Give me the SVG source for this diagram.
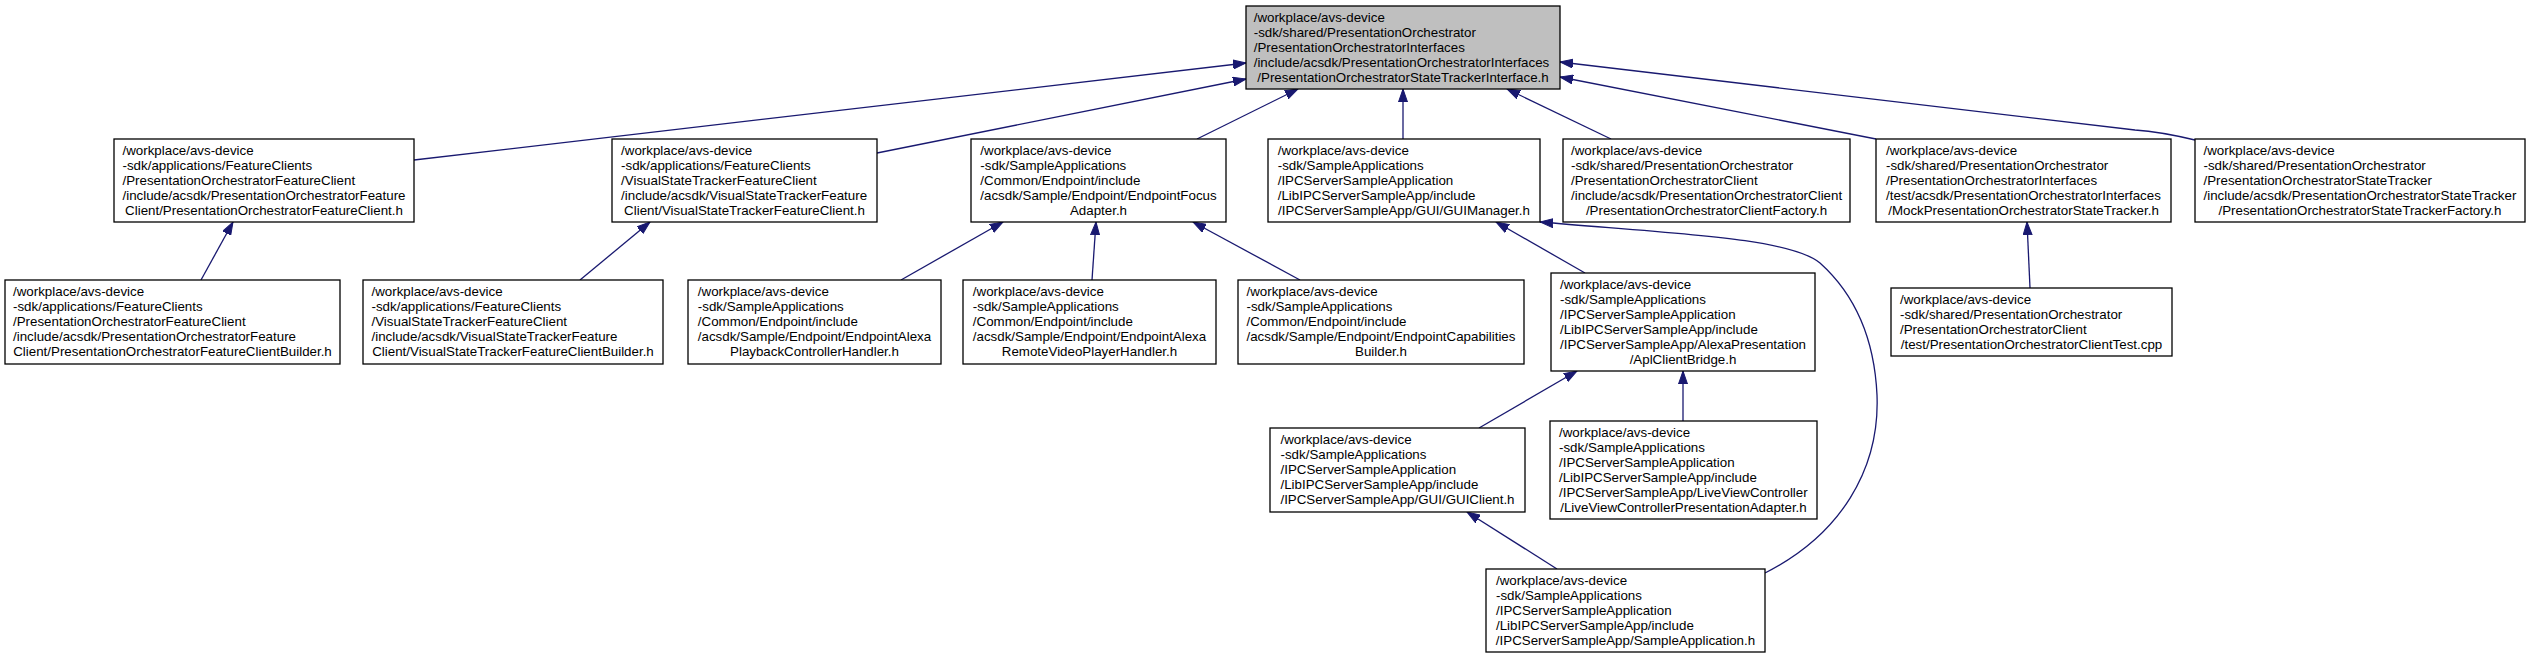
<svg xmlns="http://www.w3.org/2000/svg" width="2531" height="659" viewBox="0 0 2531 659">
<style>
.n rect{fill:#ffffff;stroke:#000000;stroke-width:1.3}
.r rect{fill:#bfbfbf;stroke:#000000;stroke-width:1.3}
text{font-family:"Liberation Sans",Arial,sans-serif;font-size:13.33px;fill:#000000}
.c{text-anchor:middle}
.e path{fill:none;stroke:#191970;stroke-width:1.3}
</style>
<defs>
<marker id="ah" markerUnits="userSpaceOnUse" markerWidth="14" markerHeight="10" refX="13" refY="5" orient="auto">
<path d="M0,0.5 L13,5 L0,9.5 z" fill="#191970" stroke="#191970" stroke-width="1"/>
</marker>
</defs>
<rect width="2531" height="659" fill="#ffffff"/>
<g id="connectors" class="e">
<path marker-end="url(#ah)" d="M414,160 L1246,63"/>
<path marker-end="url(#ah)" d="M877,153 L1246,79"/>
<path marker-end="url(#ah)" d="M1197,139 L1298,89"/>
<path marker-end="url(#ah)" d="M1403,139 L1403,89"/>
<path marker-end="url(#ah)" d="M1611,139 L1507,89"/>
<path marker-end="url(#ah)" d="M1876,139 L1560,77"/>
<path marker-end="url(#ah)" d="M2195,140 C2170,134 2150,131 2135,130 L1560,62"/>
<path marker-end="url(#ah)" d="M201,280 L233,222"/>
<path marker-end="url(#ah)" d="M580,280 L650,222"/>
<path marker-end="url(#ah)" d="M901,280 L1003,222"/>
<path marker-end="url(#ah)" d="M1092,280 L1096,222"/>
<path marker-end="url(#ah)" d="M1300,280 L1193,222"/>
<path marker-end="url(#ah)" d="M1585,273 L1496,222"/>
<path marker-end="url(#ah)" d="M1765,573 C1840,535 1880,470 1877,395 C1874,330 1850,290 1820,263 C1790,238 1680,234 1540,222"/>
<path marker-end="url(#ah)" d="M2030,288 L2027,222"/>
<path marker-end="url(#ah)" d="M1479,428 L1577,371"/>
<path marker-end="url(#ah)" d="M1683,421 L1683,371"/>
<path marker-end="url(#ah)" d="M1557,569 L1467,512"/>
</g>
<g id="root" class="r">
<rect x="1246" y="6" width="314" height="83"/>
<text x="1253.7" y="22">/workplace/avs-device</text>
<text x="1253.7" y="37">-sdk/shared/PresentationOrchestrator</text>
<text x="1253.7" y="52">/PresentationOrchestratorInterfaces</text>
<text x="1253.7" y="67">/include/acsdk/PresentationOrchestratorInterfaces</text>
<text class="c" x="1403" y="82">/PresentationOrchestratorStateTrackerInterface.h</text>
</g>
<g id="poFeatureClient" class="n">
<rect x="114" y="139" width="300" height="83"/>
<text x="122.5" y="155">/workplace/avs-device</text>
<text x="122.5" y="170">-sdk/applications/FeatureClients</text>
<text x="122.5" y="185">/PresentationOrchestratorFeatureClient</text>
<text x="122.5" y="200">/include/acsdk/PresentationOrchestratorFeature</text>
<text class="c" x="264" y="215">Client/PresentationOrchestratorFeatureClient.h</text>
</g>
<g id="vstFeatureClient" class="n">
<rect x="612" y="139" width="265" height="83"/>
<text x="621.1" y="155">/workplace/avs-device</text>
<text x="621.1" y="170">-sdk/applications/FeatureClients</text>
<text x="621.1" y="185">/VisualStateTrackerFeatureClient</text>
<text x="621.1" y="200">/include/acsdk/VisualStateTrackerFeature</text>
<text class="c" x="744.5" y="215">Client/VisualStateTrackerFeatureClient.h</text>
</g>
<g id="endpointFocusAdapter" class="n">
<rect x="971" y="139" width="255" height="83"/>
<text x="980.3" y="155">/workplace/avs-device</text>
<text x="980.3" y="170">-sdk/SampleApplications</text>
<text x="980.3" y="185">/Common/Endpoint/include</text>
<text x="980.3" y="200">/acsdk/Sample/Endpoint/EndpointFocus</text>
<text class="c" x="1098.5" y="215">Adapter.h</text>
</g>
<g id="guiManager" class="n">
<rect x="1268" y="139" width="272" height="83"/>
<text x="1277.7" y="155">/workplace/avs-device</text>
<text x="1277.7" y="170">-sdk/SampleApplications</text>
<text x="1277.7" y="185">/IPCServerSampleApplication</text>
<text x="1277.7" y="200">/LibIPCServerSampleApp/include</text>
<text class="c" x="1404" y="215">/IPCServerSampleApp/GUI/GUIManager.h</text>
</g>
<g id="poClientFactory" class="n">
<rect x="1563" y="139" width="287" height="83"/>
<text x="1571" y="155">/workplace/avs-device</text>
<text x="1571" y="170">-sdk/shared/PresentationOrchestrator</text>
<text x="1571" y="185">/PresentationOrchestratorClient</text>
<text x="1571" y="200">/include/acsdk/PresentationOrchestratorClient</text>
<text class="c" x="1706.5" y="215">/PresentationOrchestratorClientFactory.h</text>
</g>
<g id="mockStateTracker" class="n">
<rect x="1876" y="139" width="295" height="83"/>
<text x="1886" y="155">/workplace/avs-device</text>
<text x="1886" y="170">-sdk/shared/PresentationOrchestrator</text>
<text x="1886" y="185">/PresentationOrchestratorInterfaces</text>
<text x="1886" y="200">/test/acsdk/PresentationOrchestratorInterfaces</text>
<text class="c" x="2023.5" y="215">/MockPresentationOrchestratorStateTracker.h</text>
</g>
<g id="stateTrackerFactory" class="n">
<rect x="2195" y="139" width="330" height="83"/>
<text x="2203.5" y="155">/workplace/avs-device</text>
<text x="2203.5" y="170">-sdk/shared/PresentationOrchestrator</text>
<text x="2203.5" y="185">/PresentationOrchestratorStateTracker</text>
<text x="2203.5" y="200">/include/acsdk/PresentationOrchestratorStateTracker</text>
<text class="c" x="2360" y="215">/PresentationOrchestratorStateTrackerFactory.h</text>
</g>
<g id="poFeatureClientBuilder" class="n">
<rect x="5" y="280" width="335" height="84"/>
<text x="13" y="296">/workplace/avs-device</text>
<text x="13" y="311">-sdk/applications/FeatureClients</text>
<text x="13" y="326">/PresentationOrchestratorFeatureClient</text>
<text x="13" y="341">/include/acsdk/PresentationOrchestratorFeature</text>
<text class="c" x="172.5" y="356">Client/PresentationOrchestratorFeatureClientBuilder.h</text>
</g>
<g id="vstFeatureClientBuilder" class="n">
<rect x="363" y="280" width="300" height="84"/>
<text x="371.5" y="296">/workplace/avs-device</text>
<text x="371.5" y="311">-sdk/applications/FeatureClients</text>
<text x="371.5" y="326">/VisualStateTrackerFeatureClient</text>
<text x="371.5" y="341">/include/acsdk/VisualStateTrackerFeature</text>
<text class="c" x="513" y="356">Client/VisualStateTrackerFeatureClientBuilder.h</text>
</g>
<g id="playbackControllerHandler" class="n">
<rect x="688" y="280" width="253" height="84"/>
<text x="697.8" y="296">/workplace/avs-device</text>
<text x="697.8" y="311">-sdk/SampleApplications</text>
<text x="697.8" y="326">/Common/Endpoint/include</text>
<text x="697.8" y="341">/acsdk/Sample/Endpoint/EndpointAlexa</text>
<text class="c" x="814.5" y="356">PlaybackControllerHandler.h</text>
</g>
<g id="remoteVideoPlayerHandler" class="n">
<rect x="963" y="280" width="253" height="84"/>
<text x="972.8" y="296">/workplace/avs-device</text>
<text x="972.8" y="311">-sdk/SampleApplications</text>
<text x="972.8" y="326">/Common/Endpoint/include</text>
<text x="972.8" y="341">/acsdk/Sample/Endpoint/EndpointAlexa</text>
<text class="c" x="1089.5" y="356">RemoteVideoPlayerHandler.h</text>
</g>
<g id="capabilitiesBuilder" class="n">
<rect x="1238" y="280" width="286" height="84"/>
<text x="1246.5" y="296">/workplace/avs-device</text>
<text x="1246.5" y="311">-sdk/SampleApplications</text>
<text x="1246.5" y="326">/Common/Endpoint/include</text>
<text x="1246.5" y="341">/acsdk/Sample/Endpoint/EndpointCapabilities</text>
<text class="c" x="1381" y="356">Builder.h</text>
</g>
<g id="aplClientBridge" class="n">
<rect x="1551" y="273" width="264" height="98"/>
<text x="1560" y="289">/workplace/avs-device</text>
<text x="1560" y="304">-sdk/SampleApplications</text>
<text x="1560" y="319">/IPCServerSampleApplication</text>
<text x="1560" y="334">/LibIPCServerSampleApp/include</text>
<text x="1560" y="349">/IPCServerSampleApp/AlexaPresentation</text>
<text class="c" x="1683" y="364">/AplClientBridge.h</text>
</g>
<g id="clientTest" class="n">
<rect x="1891" y="288" width="281" height="68"/>
<text x="1900" y="304">/workplace/avs-device</text>
<text x="1900" y="319">-sdk/shared/PresentationOrchestrator</text>
<text x="1900" y="334">/PresentationOrchestratorClient</text>
<text class="c" x="2031.5" y="349">/test/PresentationOrchestratorClientTest.cpp</text>
</g>
<g id="guiClient" class="n">
<rect x="1270" y="428" width="255" height="84"/>
<text x="1280.5" y="444">/workplace/avs-device</text>
<text x="1280.5" y="459">-sdk/SampleApplications</text>
<text x="1280.5" y="474">/IPCServerSampleApplication</text>
<text x="1280.5" y="489">/LibIPCServerSampleApp/include</text>
<text class="c" x="1397.5" y="504">/IPCServerSampleApp/GUI/GUIClient.h</text>
</g>
<g id="liveViewAdapter" class="n">
<rect x="1550" y="421" width="267" height="98"/>
<text x="1559" y="437">/workplace/avs-device</text>
<text x="1559" y="452">-sdk/SampleApplications</text>
<text x="1559" y="467">/IPCServerSampleApplication</text>
<text x="1559" y="482">/LibIPCServerSampleApp/include</text>
<text x="1559" y="497">/IPCServerSampleApp/LiveViewController</text>
<text class="c" x="1683.5" y="512">/LiveViewControllerPresentationAdapter.h</text>
</g>
<g id="sampleApplication" class="n">
<rect x="1486" y="569" width="279" height="83"/>
<text x="1496" y="585">/workplace/avs-device</text>
<text x="1496" y="600">-sdk/SampleApplications</text>
<text x="1496" y="615">/IPCServerSampleApplication</text>
<text x="1496" y="630">/LibIPCServerSampleApp/include</text>
<text class="c" x="1625.5" y="645">/IPCServerSampleApp/SampleApplication.h</text>
</g>
</svg>
